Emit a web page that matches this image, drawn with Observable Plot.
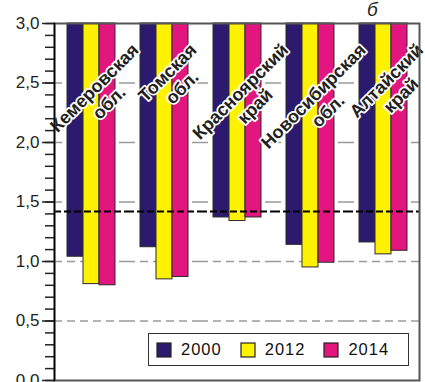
<!DOCTYPE html>
<html>
<head>
<meta charset="utf-8">
<script src="https://cdn.jsdelivr.net/npm/d3@7"></script>
<script src="https://cdn.jsdelivr.net/npm/@observablehq/plot@0.6"></script>
<style>
  body { margin: 0; background: #fff; }
  #chart { position: relative; width: 425px; height: 382px; font-family: "Liberation Sans", Arial, sans-serif; }
  #chart svg { display: block; }
  #letter { position: absolute; left: 367px; top: 0px; font: italic 19px "Liberation Sans", Arial, sans-serif; color: #231f20; line-height: 19px; }
  #legendBox { position: absolute; left: 148px; top: 333px; width: 251px; height: 31px; border: 1.5px solid #333; background: #fff;
               padding-left: 8px; box-sizing: content-box; }
  #legendBox .lg-swatches { margin: 0 !important; min-height: 31px !important; height: 31px; width: 100%;
               display: flex !important; flex-wrap: nowrap !important; align-items: center;
               font: 16.5px "Liberation Sans", Arial, sans-serif !important; letter-spacing: 1px; color: #111; }
  #legendBox .lg-swatch { display: inline-flex !important; align-items: center; margin-right: 19px !important; white-space: nowrap; }
  #legendBox .lg-swatch > svg { margin-right: 10px !important; }
  #legendBox .lg-swatch rect { stroke: #222; stroke-width: 1.2; }
</style>
</head>
<body>
<div id="chart"></div>
<script>
// Regions (two-line labels), years and index values
const regions = ["Кемеровская\nобл.", "Томская\nобл.", "Красноярский\nкрай", "Новосибирская\nобл.", "Алтайский\nкрай"];
const years = ["2000", "2012", "2014"];
const values2000 = [1.04, 1.12, 1.37, 1.14, 1.16];
const values2012 = [0.81, 0.85, 1.34, 0.95, 1.06];
const values2014 = [0.80, 0.87, 1.37, 0.99, 1.09];
const yearColors = ["#2b1a6e", "#fff200", "#e3157f"];
const yTicks = [0, 0.5, 1, 1.5, 2, 2.5, 3];
const averageLevel = 1.42;
const panelLetter = "б";

const series = [values2000, values2012, values2014];
const rows = regions.flatMap((region, i) =>
  years.map((year, j) => ({region, year, value: series[j][i]})));
const yMax = d3.max(yTicks);
const comma = d => d.toFixed(1).replace(".", ",");

// Rotated region labels: the end of the first line sits near the top of the frame
const labelSize = 18;
const labelLine = labelSize * 1.15;
const ctx = document.createElement("canvas").getContext("2d");
ctx.font = `bold ${labelSize}px "Liberation Sans"`;
const s45 = Math.SQRT1_2;
const labelMarks = regions.map(region => {
  const w = ctx.measureText(region.split("\n")[0]).width;
  return Plot.text([region], {
    fx: d => d, text: d => d, frameAnchor: "top", lineAnchor: "middle", textAnchor: "middle", rotate: -45,
    dx: 3 + s45 * labelLine / 2,
    dy: 23 + s45 * w / 2 + s45 * labelLine / 2,
    fontSize: labelSize, fontWeight: "bold", lineHeight: 1.15,
    fill: "#231f20", stroke: "white", strokeWidth: 3.5
  });
});

// Facets touch each other so the grid runs continuously; the bar trio sits in the middle of each facet
const chart = Plot.plot({
  width: 425,
  height: 382,
  marginLeft: 52,
  marginRight: 4,
  marginTop: 23,
  marginBottom: 2,
  style: {fontFamily: "'Liberation Sans', Arial, sans-serif", background: "#fff"},
  fx: {domain: regions, paddingInner: 0, paddingOuter: 0, axis: null, label: null},
  x: {domain: years, paddingInner: 0, paddingOuter: 0.705, axis: null},
  y: {domain: [0, yMax], axis: null, label: null},
  color: {domain: years, range: yearColors},
  marks: [
    Plot.ruleY(yTicks.filter(t => t > 0 && t < yMax), {stroke: "#9a9a9a", strokeWidth: 1.5, strokeDasharray: "8,5"}),
    Plot.barY(rows, {fx: "region", x: "year", y1: "value", y2: () => yMax, fill: "year", stroke: "#2a2a2a", strokeWidth: 1}),
    Plot.ruleY([averageLevel], {stroke: "#000", strokeWidth: 2, strokeDasharray: "7,3"}),
    ...labelMarks,
    Plot.frame({stroke: "#555", strokeWidth: 2, facet: "super"}),
    Plot.axisY(d3.ticks(0, yMax, 30), {tickSize: 9, text: null, label: null, stroke: "#222", strokeWidth: 1.5}),
    Plot.axisY(yTicks, {tickSize: 12, tickPadding: 3, tickFormat: comma, label: null, fontSize: 17, letterSpacing: 1, fill: "#231f20", stroke: "#222", strokeWidth: 1.5}),
    Plot.frame({anchor: "left", stroke: "#000", strokeWidth: 1.5, facet: "super"})
  ]
});

const root = document.getElementById("chart");
root.appendChild(chart);

const letter = document.createElement("div");
letter.id = "letter";
letter.textContent = panelLetter;
root.appendChild(letter);

const box = document.createElement("div");
box.id = "legendBox";
box.appendChild(Plot.legend({color: {domain: years, range: yearColors}, legend: "swatches", swatchSize: 14, className: "lg"}));
root.appendChild(box);
</script>
</body>
</html>
